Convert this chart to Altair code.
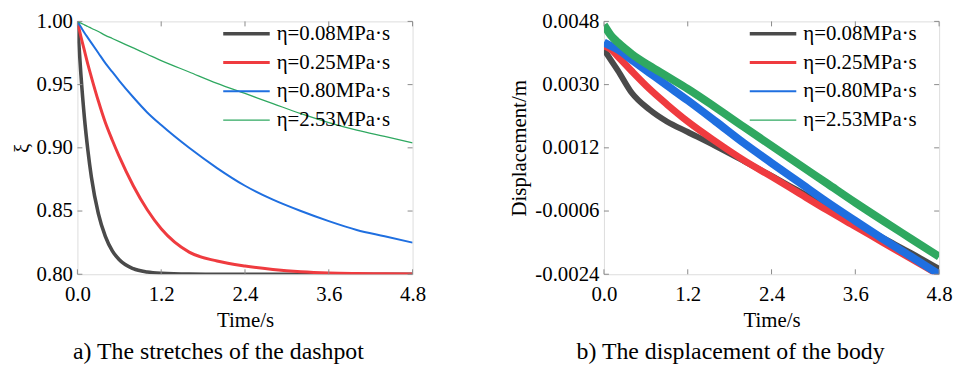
import altair as alt
import pandas as pd

FONT = "Liberation Serif"
series = ["η=0.08MPa·s", "η=0.25MPa·s", "η=0.80MPa·s", "η=2.53MPa·s"]
colors = ["#4a4a4a", "#ef3b3f", "#1f6fe0", "#2fa860"]

# ---- panel a: stretch of the dashpot
t_a = [0, 0.05, 0.1, 0.15, 0.2, 0.3, 0.4, 0.5, 0.6, 0.8, 1.0, 1.2, 1.6, 2.0, 2.4, 2.8, 3.2, 3.6, 4.0, 4.4, 4.8]
xi_008 = [1.0, 0.958, 0.924, 0.898, 0.877, 0.848, 0.830, 0.8185, 0.8115, 0.8044, 0.8017, 0.8007, 0.8001, 0.8, 0.8, 0.8, 0.8, 0.8, 0.8, 0.8, 0.8]
xi_025 = [1.0, 0.988, 0.977, 0.966, 0.956, 0.937, 0.920, 0.906, 0.893, 0.870, 0.851, 0.836, 0.8175, 0.8105, 0.8065, 0.8038, 0.802, 0.801, 0.8006, 0.8004, 0.8003]
xi_080 = [1.0, 0.9955, 0.991, 0.987, 0.983, 0.975, 0.967, 0.960, 0.953, 0.940, 0.928, 0.918, 0.900, 0.884, 0.870, 0.859, 0.850, 0.842, 0.835, 0.830, 0.825]
xi_253 = [1.0, 0.9986, 0.9973, 0.996, 0.9946, 0.992, 0.989, 0.9865, 0.984, 0.979, 0.974, 0.969, 0.960, 0.951, 0.943, 0.935, 0.927, 0.920, 0.914, 0.909, 0.904]

# ---- panel b: displacement of the body
t_b = [0, 0.1, 0.2, 0.4, 0.65, 0.9, 1.2, 1.6, 2.0, 2.4, 2.8, 3.2, 3.6, 4.0, 4.4, 4.8]
d_008 = [0.0040, 0.0037, 0.0034, 0.00276, 0.00229, 0.00195, 0.00165, 0.00125, 0.00083, 0.00040, -0.00004, -0.00048, -0.00093, -0.00137, -0.00180, -0.00225]
d_025 = [0.0041, 0.00400, 0.0038, 0.00338, 0.00288, 0.00244, 0.00195, 0.00138, 0.00085, 0.00038, -0.00010, -0.00058, -0.00104, -0.00150, -0.00196, -0.00242]
d_080 = [0.0042, 0.0041, 0.0040, 0.0037, 0.00334, 0.00298, 0.00255, 0.00195, 0.00134, 0.00077, 0.00021, -0.00035, -0.00088, -0.00140, -0.00190, -0.00240]
d_253 = [0.0047, 0.0044, 0.0042, 0.00387, 0.00354, 0.00324, 0.00288, 0.00235, 0.00180, 0.00126, 0.00072, 0.00018, -0.00036, -0.00088, -0.00139, -0.00190]

x_ticks = [0, 1.2, 2.4, 3.6, 4.8]
xi_ticks = [0.80, 0.85, 0.90, 0.95, 1.00]
d_ticks = [-0.0024, -0.0006, 0.0012, 0.0030, 0.0048]

line_widths_a = [3.6, 3.0, 2.0, 1.3]
band_widths_b = [6, 7, 8, 8]

W, H = 338, 255
TICK = "#8a8a8a"


def long_df(t, ys):
    rows = []
    for k, (name, y) in enumerate(zip(series, ys)):
        for ti, yi in zip(t, y):
            rows.append({"t": ti, "v": yi, "series": name, "k": k})
    return pd.DataFrame(rows)


df_a = long_df(t_a, [xi_008, xi_025, xi_080, xi_253])
df_b = long_df(t_b, [d_008, d_025, d_080, d_253])

xscale = alt.Scale(domain=[0, 4.8], nice=False, zero=False)
yscale_a = alt.Scale(domain=[0.8, 1.0], nice=False, zero=False)
yscale_b = alt.Scale(domain=[-0.0024, 0.0048], nice=False, zero=False)


def legend():
    return alt.Legend(
        orient="none", legendX=145, legendY=-2, title=None,
        labelFont=FONT, labelFontSize=21, labelColor="black", labelOffset=5,
        symbolType="stroke", symbolSize=2200, clipHeight=29, rowPadding=0, padding=0,
    )


AX = dict(ticks=False, domain=False, grid=False, labelFont=FONT, labelFontSize=21, labelColor="black",
          titleFont=FONT, titleFontSize=21, titleFontWeight="normal", titleColor="black", labelFlush=False)


def x_axis():
    return alt.Axis(values=x_ticks, format=".1f", title="Time/s", labelPadding=9, titlePadding=6, **AX)


def y_axis_a():
    return alt.Axis(values=xi_ticks, format=".2f", title="ξ", labelPadding=5, titlePadding=4, **AX)


def y_axis_b():
    return alt.Axis(values=d_ticks, format=".4f", labelExpr="replace(datum.label, '\u2212', '-')",
                    title="Displacement/m", labelPadding=5, titlePadding=5, **AX)


def tick_layers(yscale, yvals, yaxis):
    xt = pd.DataFrame({"t": x_ticks})
    yt = pd.DataFrame({"v": yvals})
    xs = alt.X("t:Q", scale=xscale, axis=x_axis())
    ys = alt.Y("v:Q", scale=yscale, axis=yaxis)
    base_x = alt.Chart(xt).mark_rule(color=TICK, strokeWidth=1)
    base_y = alt.Chart(yt).mark_rule(color=TICK, strokeWidth=1)
    return [
        base_x.encode(x=xs, y=alt.value(H), y2=alt.value(H - 5)),
        base_x.encode(x=xs, y=alt.value(0), y2=alt.value(5)),
        base_y.encode(y=ys, x=alt.value(0), x2=alt.value(5)),
        base_y.encode(y=ys, x=alt.value(W), x2=alt.value(W - 5)),
    ]


def caption(text):
    return alt.TitleParams(text, orient="bottom", anchor="middle", frame="bounds",
                           font=FONT, fontSize=24, fontWeight="normal", color="black", offset=9)


# panel a
lines_a = alt.Chart(df_a).mark_line(interpolate="monotone", clip=True).encode(
    x=alt.X("t:Q", scale=xscale, axis=x_axis()),
    y=alt.Y("v:Q", scale=yscale_a, axis=y_axis_a()),
    color=alt.Color("series:N", scale=alt.Scale(domain=series, range=colors), sort=series, legend=legend()),
    strokeWidth=alt.StrokeWidth("series:N", scale=alt.Scale(type="ordinal", domain=series, range=line_widths_a),
                                sort=series, legend=legend()),
    detail="series:N",
)
panel_a = alt.layer(lines_a, *tick_layers(yscale_a, xi_ticks, y_axis_a())).properties(
    width=W, height=H, title=caption("a) The stretches of the dashpot"))

# panel b
bands_b = alt.Chart(df_b).mark_line(interpolate="monotone", clip=True).encode(
    x=alt.X("t:Q", scale=xscale, axis=x_axis()),
    y=alt.Y("v:Q", scale=yscale_b, axis=y_axis_b()),
    color=alt.Color("series:N", scale=alt.Scale(domain=series, range=colors), sort=series, legend=None),
    strokeWidth=alt.StrokeWidth("series:N", scale=alt.Scale(type="ordinal", domain=series, range=band_widths_b),
                                sort=series, legend=None),
    detail="series:N",
)
legend_b = alt.Chart(df_b).transform_filter("datum.t < 0").mark_line().encode(
    x=alt.X("t:Q", scale=xscale, axis=x_axis()),
    y=alt.Y("v:Q", scale=yscale_b, axis=y_axis_b()),
    color=alt.Color("series:N", scale=alt.Scale(domain=series, range=colors), sort=series, legend=legend()),
    strokeWidth=alt.StrokeWidth("series:N", scale=alt.Scale(type="ordinal", domain=series, range=line_widths_a),
                                sort=series, legend=legend()),
)
panel_b = alt.layer(bands_b, legend_b, *tick_layers(yscale_b, d_ticks, y_axis_b())).resolve_scale(
    color="independent", strokeWidth="independent").properties(
    width=W, height=H, title=caption("b) The displacement of the body"))

chart = alt.hconcat(panel_a, panel_b, spacing=82).properties(
    padding={"left": 2, "top": 0, "right": 0, "bottom": 0}
).configure_view(stroke="#3c3c3c", strokeWidth=1).configure(background="white")

chart.save("out.html", embed_options={"renderer": "svg", "actions": False})
